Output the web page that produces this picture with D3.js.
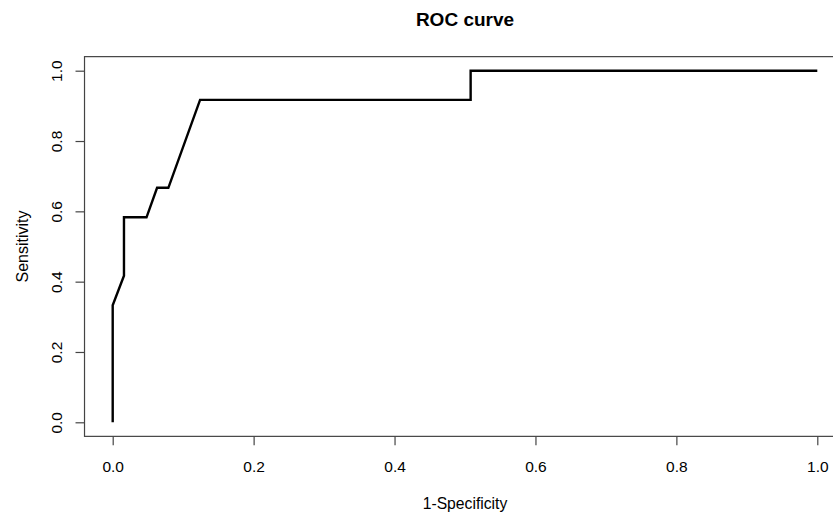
<!DOCTYPE html>
<html>
<head>
<meta charset="utf-8">
<script src="https://cdn.jsdelivr.net/npm/d3@7"></script>
<style>
  html, body { margin: 0; padding: 0; background: #fff; }
  svg { display: block; }
  text { font-family: "Liberation Sans", Arial, sans-serif; fill: #000; }
</style>
</head>
<body>
<svg id="chart" width="833" height="513"></svg>
<script>
// ROC curve points (1-Specificity, Sensitivity)
const fpr = [0, 0, 0.016, 0.016, 0.048, 0.063, 0.079, 0.124, 0.508, 0.508, 1];
const tpr = [0, 0.333, 0.417, 0.583, 0.583, 0.667, 0.667, 0.917, 0.917, 1, 1];
const xTicks = [0, 0.2, 0.4, 0.6, 0.8, 1.0];
const yTicks = [0, 0.2, 0.4, 0.6, 0.8, 1.0];
const title = "ROC curve";
const xLabel = "1-Specificity";
const yLabel = "Sensitivity";

const svg = d3.select("#chart");
const x = d3.scaleLinear().domain([0, 1]).range([112.7, 817.3]);
const y = d3.scaleLinear().domain([0, 1]).range([422.3, 70.7]);

const x0 = x(-0.04), x1 = x(1.04), y0 = y(-0.04), y1 = y(1.04);

// plot box
svg.append("rect")
  .attr("x", x0).attr("y", y1)
  .attr("width", x1 - x0).attr("height", y0 - y1)
  .attr("fill", "none").attr("stroke", "#444").attr("stroke-width", 1.2);

// x axis
const xAxis = svg.append("g").attr("transform", `translate(0,${y0})`)
  .call(d3.axisBottom(x).tickValues(xTicks).tickFormat(d3.format(".1f")).tickSize(9).tickSizeOuter(0));
xAxis.select(".domain").remove();
xAxis.selectAll(".tick line").attr("stroke", "#444").attr("stroke-width", 1.2);
xAxis.selectAll(".tick text").attr("y", 36).attr("dy", 0)
  .style("font-size", "15.5px").style("font-family", "Liberation Sans, Arial, sans-serif").attr("fill", "#000");

// y axis
const yAxis = svg.append("g").attr("transform", `translate(${x0},0)`)
  .call(d3.axisLeft(y).tickValues(yTicks).tickFormat(d3.format(".1f")).tickSize(9).tickSizeOuter(0));
yAxis.select(".domain").remove();
yAxis.selectAll(".tick line").attr("stroke", "#444").attr("stroke-width", 1.2);
yAxis.selectAll(".tick text")
  .attr("x", 0).attr("dy", 0)
  .attr("text-anchor", "middle")
  .attr("transform", "translate(-22.5,0) rotate(-90)")
  .style("font-size", "15.5px").style("font-family", "Liberation Sans, Arial, sans-serif").attr("fill", "#000");

// curve
const line = d3.line().x(i => x(fpr[i])).y(i => y(tpr[i]));
svg.append("path")
  .attr("d", line(d3.range(fpr.length)))
  .attr("fill", "none").attr("stroke", "#000").attr("stroke-width", 2.4)
  .attr("stroke-linejoin", "miter");

// title
svg.append("text").attr("x", (x0 + x1) / 2).attr("y", 26)
  .attr("text-anchor", "middle")
  .style("font-size", "19px").style("font-weight", "bold")
  .text(title);

// x label
svg.append("text").attr("x", (x0 + x1) / 2).attr("y", 509)
  .attr("text-anchor", "middle")
  .style("font-size", "15.7px")
  .text(xLabel);

// y label
svg.append("text")
  .attr("transform", `translate(27.5,${(y0 + y1) / 2}) rotate(-90)`)
  .attr("text-anchor", "middle")
  .style("font-size", "16px")
  .text(yLabel);
</script>
</body>
</html>
